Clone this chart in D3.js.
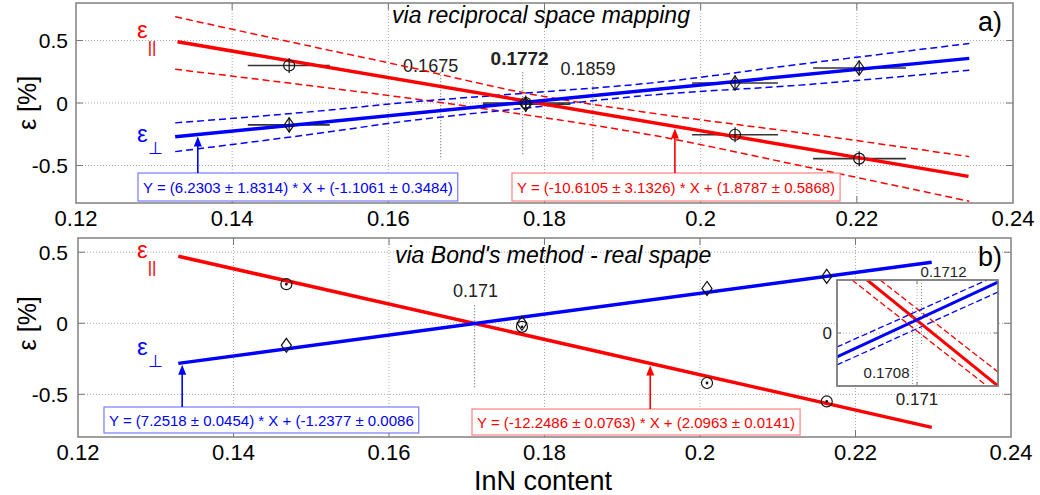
<!DOCTYPE html>
<html>
<head>
<meta charset="utf-8">
<script src="https://cdn.jsdelivr.net/npm/d3@7"></script>
<style>
  body { margin: 0; background: #fff; }
  text { font-family: "Liberation Sans", Arial, sans-serif; }
</style>
</head>
<body>
<svg id="chart" width="1040" height="495"></svg>
<script>
// ---- data ----
const xTicks = [0.12, 0.14, 0.16, 0.18, 0.2, 0.22, 0.24];
const yTicks = [-0.5, 0, 0.5];

// panel a) reciprocal space mapping
const ptsXA = [0.1473, 0.1776, 0.2044, 0.2203];
const errLoA = [0.1420, 0.1721, 0.1989, 0.2144];
const errHiA = [0.1525, 0.1833, 0.2099, 0.2263];
const parA = [0.30, 0.00, -0.254, -0.445];
const perpA = [-0.175, -0.01, 0.16, 0.28];
const yErrA = [0.06, 0.06, 0.06, 0.06];
const fitParA = [[0.1330, 0.490], [0.2343, -0.587]];
const fitPerpA = [[0.1327, -0.270], [0.2344, 0.357]];
const bandXA = [0.1327, 0.1525, 0.1615, 0.1776, 0.1935, 0.2127, 0.2344];
const parUpA = [0.690, 0.421, 0.302, 0.079, -0.079, -0.238, -0.429];
const parLoA = [0.270, 0.119, 0.048, -0.095, -0.254, -0.500, -0.786];
const perpUpA = [-0.159, -0.056, 0.000, 0.079, 0.159, 0.310, 0.476];
const perpLoA = [-0.389, -0.230, -0.151, -0.040, 0.063, 0.143, 0.262];
const critXA = [0.1667, 0.1772, 0.1862];
const critLabelA = ["0.1675", "0.1772", "0.1859"];
const critTopA = [0.246, 0.246, 0.183];
const critBotA = [-0.452, -0.413, -0.468];
const eqA = ["Y = (6.2303 \u00b1 1.8314) * X + (-1.1061 \u00b1 0.3484)",
             "Y = (-10.6105 \u00b1 3.1326) * X + (1.8787 \u00b1 0.5868)"];
const arrowXA = [0.1356, 0.1967];

// panel b) Bond's method
const ptsXB = [0.1468, 0.1771, 0.2009, 0.2163];
const parB = [0.275, -0.025, -0.42, -0.55];
const perpB = [-0.155, 0.0, 0.245, 0.33];
const fitParB = [[0.1329, 0.472], [0.2298, -0.732]];
const fitPerpB = [[0.1329, -0.282], [0.2298, 0.430]];
const critXB = [0.171];
const critLabelB = ["0.171"];
const critTopB = [0.127];
const critBotB = [-0.45];
const eqB = ["Y = (7.2518 \u00b1 0.0454) * X + (-1.2377 \u00b1 0.0086",
             "Y = (-12.2486 \u00b1 0.0763) * X + (2.0963 \u00b1 0.0141)"];
const arrowXB = [0.1334, 0.1936];

// inset of panel b)
const insetXDomain = [0.16744, 0.1746];
const insetYDomain = [-0.0367, 0.0367];
const insetPar = [[0.16878, 0.0367], [0.1746, -0.0367]];
const insetPerp = [[0.16744, -0.0166], [0.1746, 0.0353]];
const insetParUp = [[0.16936, 0.0367], [0.1746, -0.027]];
const insetParLo = [[0.16811, 0.0367], [0.17411, -0.0367]];
const insetPerpUp = [[0.16744, -0.0097], [0.17411, 0.0367]];
const insetPerpLo = [[0.16744, -0.0221], [0.1746, 0.0284]];
const insetCritX = [0.1708, 0.1712];
const insetCritLabel = ["0.1708", "0.1712"];
const insetCritTop = [0.0194, 0.0367];
const insetCritBot = [-0.0367, -0.0083];

const RED = "#ff0000", BLUE = "#0000ff";
const svg = d3.select("#chart");

function yAt(fit, x) {
  return fit[0][1] + (fit[1][1] - fit[0][1]) * (x - fit[0][0]) / (fit[1][0] - fit[0][0]);
}

function drawFrame(g, x, y, xt, yt, tick) {
  const [x0, x1] = x.range(), [y0, y1] = y.range();
  g.append("g").selectAll("line").data(xt).join("line")
    .attr("x1", d => x(d)).attr("x2", d => x(d))
    .attr("y1", y0).attr("y2", y1)
    .attr("stroke", "#aaa").attr("stroke-dasharray", "1,2");
  g.append("g").selectAll("line").data(yt).join("line")
    .attr("y1", d => y(d)).attr("y2", d => y(d))
    .attr("x1", x0).attr("x2", x1)
    .attr("stroke", "#aaa").attr("stroke-dasharray", "1,2");
  // inward ticks on all four sides
  const t = g.append("g").attr("stroke", "#777").attr("stroke-width", 1);
  xt.forEach(d => {
    t.append("line").attr("x1", x(d)).attr("x2", x(d)).attr("y1", y0).attr("y2", y0 - tick);
    t.append("line").attr("x1", x(d)).attr("x2", x(d)).attr("y1", y1).attr("y2", y1 + tick);
  });
  yt.forEach(d => {
    t.append("line").attr("y1", y(d)).attr("y2", y(d)).attr("x1", x0).attr("x2", x0 + tick);
    t.append("line").attr("y1", y(d)).attr("y2", y(d)).attr("x1", x1).attr("x2", x1 - tick);
  });
  g.append("rect").attr("x", x0).attr("y", y1)
    .attr("width", x1 - x0).attr("height", y0 - y1)
    .attr("fill", "none").attr("stroke", "#808080").attr("stroke-width", 1.5);
}

function drawPanel(p) {
  const x = d3.scaleLinear().domain([0.12, 0.24]).range(p.xr);
  const y = d3.scaleLinear().domain(p.yd).range(p.yr);
  const g = svg.append("g");
  g.append("rect").attr("x", p.xr[0]).attr("y", p.yr[1])
    .attr("width", p.xr[1] - p.xr[0]).attr("height", p.yr[0] - p.yr[1]).attr("fill", "#fff");
  drawFrame(g, x, y, xTicks.slice(1, -1), yTicks, 7);

  // tick labels
  g.append("g").selectAll("text").data(xTicks).join("text")
    .attr("x", d => x(d)).attr("y", p.yr[0] + 23)
    .attr("text-anchor", "middle").attr("font-size", 22).text(d => String(d));
  g.append("g").selectAll("text").data(yTicks).join("text")
    .attr("x", 68).attr("y", d => y(d) + 7.5)
    .attr("text-anchor", "end").attr("font-size", 21).text(d => String(d));
  g.append("text")
    .attr("transform", `translate(36,${y(0)}) rotate(-90)`)
    .attr("text-anchor", "middle").attr("font-size", 25).text("\u03b5 [%]");

  // title and panel letter
  g.append("text").attr("x", p.titleX).attr("y", p.titleY)
    .attr("text-anchor", p.titleAnchor).attr("font-size", 23).attr("font-style", "italic")
    .text(p.title);
  g.append("text").attr("x", 1002).attr("y", p.letterY)
    .attr("text-anchor", "end").attr("font-size", 27).text(p.letter);

  // critical points (dotted verticals + labels)
  g.append("g").selectAll("line").data(p.critX).join("line")
    .attr("x1", d => x(d)).attr("x2", d => x(d))
    .attr("y1", (d, i) => y(p.critTop[i])).attr("y2", (d, i) => y(p.critBot[i]))
    .attr("stroke", "#777").attr("stroke-dasharray", "1,2").attr("stroke-width", 1.3);
  p.critX.forEach((d, i) => {
    const l = p.critLab[i];
    g.append("text").attr("x", x(d) + l.dx).attr("y", y(p.critTop[i]) + l.dy)
      .attr("text-anchor", "middle").attr("font-size", l.size)
      .attr("font-weight", l.bold ? "bold" : "normal").attr("fill", "#222").text(p.critLabel[i]);
  });

  const line = d3.line().x(d => x(d[0])).y(d => y(d[1]));
  const curve = d3.line().x(d => x(d[0])).y(d => y(d[1])).curve(d3.curveMonotoneX);

  if (p.bands) {
    p.bands.forEach(b => {
      g.append("path").datum(p.bandX.map((v, i) => [v, b.vals[i]]))
        .attr("d", curve).attr("fill", "none").attr("stroke", b.color)
        .attr("stroke-width", 1.5).attr("stroke-dasharray", "7,4");
    });
  }
  // horizontal error bars
  if (p.errLo) {
    const eb = g.append("g").attr("stroke", "#333").attr("stroke-width", 1.6);
    p.ptsX.forEach((d, i) => {
      [p.par[i], p.perp[i]].forEach(v => {
        eb.append("line").attr("x1", x(p.errLo[i])).attr("x2", x(p.errHi[i]))
          .attr("y1", y(v)).attr("y2", y(v));
      });
    });
  }

  // fit lines
  g.append("path").datum(p.fitPar).attr("d", line)
    .attr("stroke", RED).attr("stroke-width", 3.5).attr("fill", "none");
  g.append("path").datum(p.fitPerp).attr("d", line)
    .attr("stroke", BLUE).attr("stroke-width", 3.5).attr("fill", "none");

  // markers
  const mk = g.append("g").attr("stroke", "#111").attr("stroke-width", 1.2).attr("fill", "none");
  p.ptsX.forEach((d, i) => {
    const cx = x(d);
    const cy = y(p.par[i]);
    mk.append("circle").attr("cx", cx).attr("cy", cy).attr("r", 5.5);
    const dy = y(p.perp[i]);
    mk.append("path").attr("d", `M${cx},${dy - 7}L${cx + 5},${dy}L${cx},${dy + 7}L${cx - 5},${dy}Z`);
    if (p.yErr) {
      const e = p.yErr[i];
      mk.append("line").attr("x1", cx).attr("x2", cx)
        .attr("y1", y(p.par[i] + e)).attr("y2", y(p.par[i] - e));
      mk.append("line").attr("x1", cx).attr("x2", cx)
        .attr("y1", y(p.perp[i] + e)).attr("y2", y(p.perp[i] - e));
    } else {
      mk.append("circle").attr("cx", cx).attr("cy", cy).attr("r", 0.8).attr("fill", "#111");
    }
  });

  // epsilon labels
  const epsLab = (yy, col, sub, subDy) => {
    const t = g.append("text").attr("x", 137).attr("y", yy).attr("fill", col).attr("font-size", 24);
    t.append("tspan").text("\u03b5");
    t.append("tspan").attr("dy", subDy).attr("font-size", 17).text(sub);
  };
  epsLab(p.epsParY, RED, "||", 15);
  epsLab(p.epsPerpY, BLUE, "\u22a5", 12);

  // equation boxes with arrows
  [[BLUE, "#7a7aff", p.fitPerp, 0], [RED, "#ff8080", p.fitPar, 1]].forEach(([col, boxCol, fit, k]) => {
    const bx = p.boxX[k], by = p.boxY[k], bh = p.boxH;
    const t = g.append("text").attr("x", bx + 5).attr("y", by + bh / 2 + 5.5)
      .attr("fill", col).attr("font-size", 15).text(p.eq[k]);
    const w = t.node().getComputedTextLength();
    g.insert("rect", () => t.node()).attr("x", bx).attr("y", by)
      .attr("width", w + 10).attr("height", bh)
      .attr("fill", "#fff").attr("stroke", boxCol).attr("stroke-width", 1.2);
    const ax = x(p.arrowX[k]), ay = y(yAt(fit, p.arrowX[k])) + 2;
    g.append("line").attr("x1", ax).attr("x2", ax).attr("y1", by).attr("y2", ay + 7)
      .attr("stroke", col).attr("stroke-width", 1.6);
    g.append("path").attr("d", `M${ax},${ay}L${ax + 4},${ay + 10}L${ax - 4},${ay + 10}Z`).attr("fill", col);
  });
  return { x, y, g };
}

drawPanel({
  xr: [76, 1013], yr: [203, 3], yd: [-0.8, 0.8],
  title: "via reciprocal space mapping", titleX: 541, titleY: 23, titleAnchor: "middle",
  letter: "a)", letterY: 31,
  ptsX: ptsXA, par: parA, perp: perpA, errLo: errLoA, errHi: errHiA, yErr: yErrA,
  fitPar: fitParA, fitPerp: fitPerpA,
  bandX: bandXA,
  bands: [{ vals: parUpA, color: RED }, { vals: parLoA, color: RED },
          { vals: perpUpA, color: BLUE }, { vals: perpLoA, color: BLUE }],
  critX: critXA, critLabel: critLabelA, critTop: critTopA, critBot: critBotA,
  critLab: [{ dx: -10, dy: 0, size: 18 }, { dx: -3, dy: -7, size: 19, bold: true }, { dx: -5, dy: -5, size: 18 }],
  epsParY: 38, epsPerpY: 142,
  eq: eqA, arrowX: arrowXA, boxX: [138, 512], boxY: [173, 173], boxH: 28
});

drawPanel({
  xr: [78, 1011], yr: [437, 238], yd: [-0.8, 0.6],
  title: "via Bond's method - real spape", titleX: 395, titleY: 263, titleAnchor: "start",
  letter: "b)", letterY: 266,
  ptsX: ptsXB, par: parB, perp: perpB,
  fitPar: fitParB, fitPerp: fitPerpB,
  critX: critXB, critLabel: critLabelB, critTop: critTopB, critBot: critBotB,
  critLab: [{ dx: 1, dy: -8, size: 18 }],
  epsParY: 258, epsPerpY: 355,
  eq: eqB, arrowX: arrowXB, boxX: [104, 472], boxY: [407, 409], boxH: 26
});

svg.append("text").attr("x", 543).attr("y", 490).attr("text-anchor", "middle")
  .attr("font-size", 27).text("InN content");

// ---- inset ----
const ix = d3.scaleLinear().domain(insetXDomain).range([837, 998]);
const iy = d3.scaleLinear().domain(insetYDomain).range([386, 280]);
const ig = svg.append("g");
ig.append("rect").attr("x", 837).attr("y", 280).attr("width", 161).attr("height", 106).attr("fill", "#fff");
ig.append("clipPath").attr("id", "inclip").append("rect")
  .attr("x", 837).attr("y", 280).attr("width", 161).attr("height", 106);
drawFrame(ig, ix, iy, [0.171], [0], 4);
const il = ig.append("g").attr("clip-path", "url(#inclip)");
ig.selectAll(".icrit").data(insetCritX).join("line").attr("class", "icrit")
  .attr("x1", d => ix(d)).attr("x2", d => ix(d))
  .attr("y1", (d, i) => iy(insetCritTop[i])).attr("y2", (d, i) => iy(insetCritBot[i]))
  .attr("stroke", "#888").attr("stroke-dasharray", "1,2");
const iline = d3.line().x(d => ix(d[0])).y(d => iy(d[1]));
[[insetParUp, RED], [insetParLo, RED], [insetPerpUp, BLUE], [insetPerpLo, BLUE]].forEach(([d, c]) => {
  il.append("path").datum(d).attr("d", iline).attr("fill", "none")
    .attr("stroke", c).attr("stroke-width", 1.3).attr("stroke-dasharray", "6,3");
});
il.append("path").datum(insetPar).attr("d", iline).attr("fill", "none").attr("stroke", RED).attr("stroke-width", 3);
il.append("path").datum(insetPerp).attr("d", iline).attr("fill", "none").attr("stroke", BLUE).attr("stroke-width", 3);
ig.append("rect").attr("x", 837).attr("y", 280).attr("width", 161).attr("height", 106)
  .attr("fill", "none").attr("stroke", "#808080").attr("stroke-width", 1.5);
ig.append("text").attr("x", ix(insetCritX[0]) - 26).attr("y", 378).attr("text-anchor", "middle")
  .attr("font-size", 15).attr("fill", "#222").text(insetCritLabel[0]);
ig.append("text").attr("x", ix(insetCritX[1]) + 22).attr("y", 277).attr("text-anchor", "middle")
  .attr("font-size", 15).attr("fill", "#222").text(insetCritLabel[1]);
ig.append("text").attr("x", ix(0.171)).attr("y", 405).attr("text-anchor", "middle")
  .attr("font-size", 17).attr("fill", "#222").text("0.171");
ig.append("text").attr("x", 832).attr("y", iy(0) + 6).attr("text-anchor", "end")
  .attr("font-size", 17).attr("fill", "#222").text("0");
</script>
</body>
</html>
